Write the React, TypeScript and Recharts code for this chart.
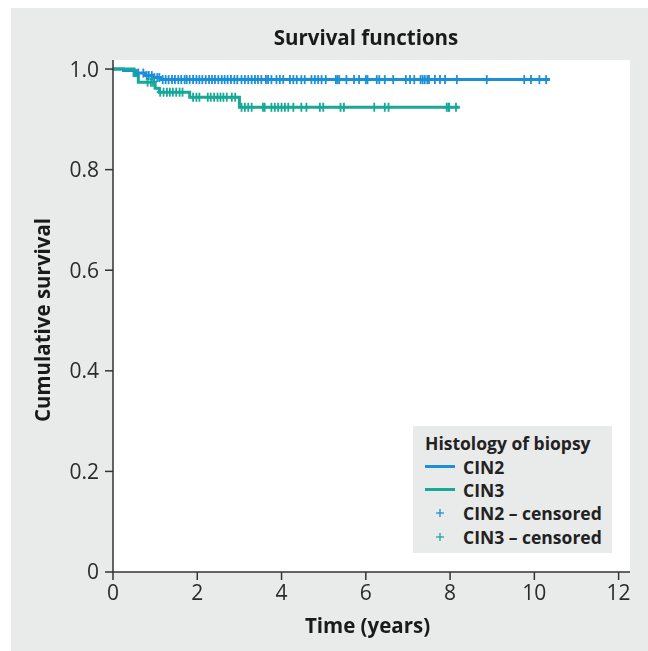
import { ComposedChart, Legend, Line, Scatter, XAxis, YAxis } from "recharts";

// Kaplan-Meier steps (time in years, cumulative survival)
const cin2StepTimes = [0, 0.25, 0.55, 0.75, 0.95, 1.12, 10.37];
const cin2StepSurvival = [1, 0.997, 0.992, 0.987, 0.983, 0.979, 0.979];
const cin3StepTimes = [0, 0.5, 0.6, 1.0, 1.1, 1.82, 3.0, 8.23];
const cin3StepSurvival = [1, 0.987, 0.974, 0.962, 0.954, 0.944, 0.924, 0.924];

// censored observations (time in years)
const cin2Censored = [
  0.6, 0.72, 0.8, 0.85, 0.92, 0.98, 1.05, 1.1, 1.18, 1.25, 1.32, 1.4, 1.47, 1.55, 1.62, 1.7, 1.75,
  1.82, 1.9, 1.98, 2.05, 2.12, 2.2, 2.28, 2.35, 2.42, 2.5, 2.58, 2.65, 2.72, 2.8, 2.88, 2.95, 3.05,
  3.13, 3.21, 3.29, 3.37, 3.44, 3.52, 3.63, 3.68, 3.76, 3.88, 3.96, 4.04, 4.2, 4.28, 4.36, 4.47,
  4.55, 4.71, 4.79, 4.87, 4.95, 5.05, 5.29, 5.33, 5.37, 5.54, 5.72, 5.84, 6.0, 6.04, 6.26, 6.32,
  6.45, 6.65, 6.95, 7.05, 7.15, 7.3, 7.35, 7.4, 7.46, 7.5, 7.64, 7.76, 7.88, 8.16, 8.87, 9.76,
  9.92, 10.12, 10.28
];
const cin3Censored = [
  0.82, 0.9, 0.95, 1.12, 1.2, 1.28, 1.35, 1.42, 1.5, 1.58, 1.65, 1.9, 1.98, 2.05, 2.25, 2.32, 2.4,
  2.48, 2.55, 2.62, 2.7, 2.82, 2.9, 3.05, 3.13, 3.21, 3.29, 3.56, 3.6, 3.76, 3.84, 3.92, 4.0, 4.08,
  4.16, 4.28, 4.47, 4.59, 4.91, 4.99, 5.4, 5.48, 6.2, 6.45, 6.54, 7.92, 7.96, 7.98, 8.14
];

const xTicks = [0, 2, 4, 6, 8, 10, 12];
const yTicks = [0, 0.2, 0.4, 0.6, 0.8, 1.0];

const CIN2_COLOR = "#1b8fd7";
const CIN3_COLOR = "#17a897";
const BG = "#e9eaea";
const FONT = "'Open Sans', 'Noto Sans', sans-serif";

const toSteps = (times: number[], surv: number[]) => times.map((t, i) => ({ t, s: surv[i] }));

const levelAt = (times: number[], surv: number[], t: number) => {
  let s = surv[0];
  times.forEach((tt, i) => {
    if (tt <= t) s = surv[i];
  });
  return s;
};

const cin2Line = toSteps(cin2StepTimes, cin2StepSurvival);
const cin3Line = toSteps(cin3StepTimes, cin3StepSurvival);
const cin2Marks = cin2Censored.map((t) => ({ t, s: levelAt(cin2StepTimes, cin2StepSurvival, t) }));
const cin3Marks = cin3Censored.map((t) => ({ t, s: levelAt(cin3StepTimes, cin3StepSurvival, t) }));

// censor mark; own prop names so Scatter's width/size don't clash
function Plus(props: any) {
  const { cx, cy, fill, armX = 3.5, armY = 4.5, weight = 1.8 } = props;
  if (cx == null || cy == null) return null;
  return (
    <g stroke={fill} strokeWidth={weight}>
      <line x1={cx - armX} x2={cx + armX} y1={cy} y2={cy} />
      <line x1={cx} x2={cx} y1={cy - armY} y2={cy + armY} />
    </g>
  );
}

function HistologyLegend() {
  const row = { display: "flex", alignItems: "center", height: 23.3 } as const;
  const swatch = { width: 38, display: "flex", justifyContent: "flex-start" } as const;
  const plusSwatch = { ...swatch, paddingLeft: 10, boxSizing: "border-box" } as const;
  return (
    <div
      style={{
        background: BG,
        width: 199,
        height: 127,
        boxSizing: "border-box",
        padding: "4px 0 0 12px",
        fontFamily: FONT,
        fontWeight: 700,
        fontSize: 17.5,
        color: "#222",
        textAlign: "left"
      }}
    >
      <div style={{ height: 25, lineHeight: "26px" }}>Histology of biopsy</div>
      <div style={row}>
        <div style={swatch}>
          <div style={{ width: 30, height: 3, background: CIN2_COLOR }} />
        </div>
        CIN2
      </div>
      <div style={row}>
        <div style={swatch}>
          <div style={{ width: 30, height: 3, background: CIN3_COLOR }} />
        </div>
        CIN3
      </div>
      <div style={row}>
        <div style={plusSwatch}>
          <svg height={10} width={10}>
            <Plus armX={4} armY={4} cx={5} cy={5} fill={CIN2_COLOR} weight={1.3} />
          </svg>
        </div>
        CIN2 – censored
      </div>
      <div style={row}>
        <div style={plusSwatch}>
          <svg height={10} width={10}>
            <Plus armX={4} armY={4} cx={5} cy={5} fill={CIN3_COLOR} weight={1.3} />
          </svg>
        </div>
        CIN3 – censored
      </div>
    </div>
  );
}

const tickStyle = { fontSize: 21, fill: "#2b2b2b", fontFamily: FONT };
const titleStyle = { fontSize: 20.5, fontWeight: 700, fill: "#1a1a1a", fontFamily: FONT };

function XTitle(props: any) {
  const { viewBox } = props;
  return (
    <text {...titleStyle} textAnchor="middle" x={viewBox.x + viewBox.width / 2 - 4} y={viewBox.y + 61}>
      Time (years)
    </text>
  );
}

function YTitle(props: any) {
  const { viewBox } = props;
  const x = viewBox.x + 17;
  const y = viewBox.y + viewBox.height / 2 + 4;
  return (
    <text {...titleStyle} textAnchor="middle" transform={`rotate(-90, ${x}, ${y})`} x={x} y={y}>
      Cumulative survival
    </text>
  );
}

export default function App() {
  return (
    <div style={{ position: "fixed", top: 8, left: 11, width: 637, height: 643, background: BG }}>
      <div
        style={{
          position: "absolute",
          top: 15,
          left: 0,
          width: 710,
          textAlign: "center",
          fontFamily: FONT,
          fontWeight: 700,
          fontSize: 20.5,
          color: "#1a1a1a"
        }}
      >
        Survival functions
      </div>
      <ComposedChart
        height={643}
        margin={{ top: 52, right: 18, bottom: 39, left: 22 }}
        style={{ position: "absolute", top: 0, left: 0 }}
        width={637}
      >
        <rect fill="#ffffff" height={512} width={517} x={102} y={52} />
        <XAxis
          allowDataOverflow
          axisLine={{ stroke: "#333", strokeWidth: 1.5 }}
          dataKey="t"
          domain={[0, 12.27]}
          height={40}
          label={<XTitle />}
          tick={tickStyle}
          tickLine={{ stroke: "#333", strokeWidth: 1.5 }}
          tickMargin={5}
          tickSize={8}
          ticks={xTicks}
          type="number"
        />
        <YAxis
          allowDataOverflow
          axisLine={{ stroke: "#333", strokeWidth: 1.5 }}
          dataKey="s"
          domain={[0, 1.018]}
          label={<YTitle />}
          tick={tickStyle}
          tickFormatter={(v: number) => (v === 0 ? "0" : v.toFixed(1))}
          tickLine={{ stroke: "#333", strokeWidth: 1.5 }}
          tickMargin={6}
          tickSize={8}
          ticks={yTicks}
          type="number"
          width={80}
        />
        <Legend
          align="center"
          content={() => <HistologyLegend />}
          layout="horizontal"
          verticalAlign="middle"
          wrapperStyle={{ left: 402, top: 418, width: 199 }}
        />
        <Line
          data={cin2Line}
          dataKey="s"
          dot={false}
          isAnimationActive={false}
          name="CIN2"
          stroke={CIN2_COLOR}
          strokeWidth={3}
          type="stepAfter"
        />
        <Line
          data={cin3Line}
          dataKey="s"
          dot={false}
          isAnimationActive={false}
          name="CIN3"
          stroke={CIN3_COLOR}
          strokeWidth={3}
          type="stepAfter"
        />
        <Scatter
          data={cin2Marks}
          dataKey="s"
          fill={CIN2_COLOR}
          isAnimationActive={false}
          name="CIN2 – censored"
          shape={<Plus />}
        />
        <Scatter
          data={cin3Marks}
          dataKey="s"
          fill={CIN3_COLOR}
          isAnimationActive={false}
          name="CIN3 – censored"
          shape={<Plus />}
        />
      </ComposedChart>
    </div>
  );
}
